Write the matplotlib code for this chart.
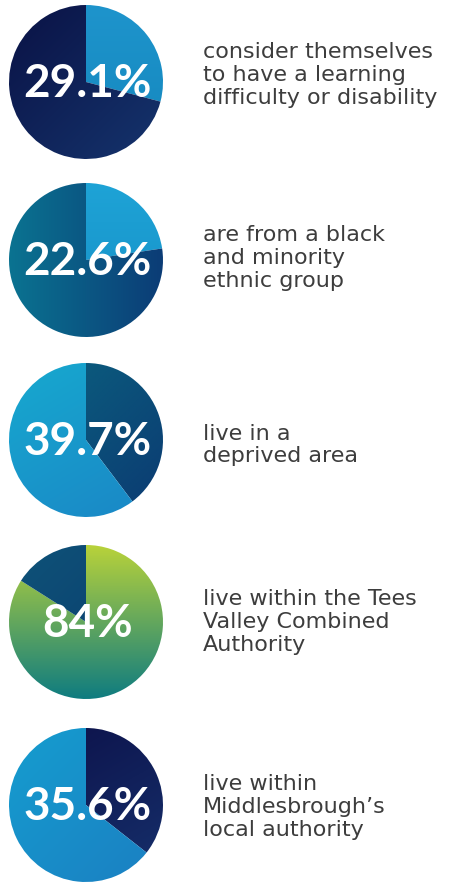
import matplotlib
matplotlib.use('Agg')
import matplotlib.pyplot as plt
import numpy as np
from matplotlib.colors import LinearSegmentedColormap

W, H = 451, 889

# values (share highlighted in each pie)
percents = [29.1, 22.6, 39.7, 84, 35.6]
labels = ['29.1%', '22.6%', '39.7%', '84%', '35.6%']
captions = [
    'consider themselves\nto have a learning\ndifficulty or disability',
    'are from a black\nand minority\nethnic group',
    'live in a\ndeprived area',
    'live within the Tees\nValley Combined\nAuthority',
    'live within\nMiddlesbrough\u2019s\nlocal authority',
]

# (highlighted wedge gradient, rest gradient), each (start colour, end colour, direction in degrees)
styles = [
    (('#1e94cc', '#1487bd', -90), ('#0a1245', '#15346d', -45)),
    (('#1ea3d6', '#168fc6', -90), ('#0a7391', '#0c3c76', 0)),
    (('#0b6380', '#0b3a72', -45), ('#17a9cf', '#1a86c6', -60)),
    (('#b8d23a', '#0f7c80', -90), ('#0e5378', '#0b3a6e', -45)),
    (('#0c1048', '#16306c', -60), ('#159dcf', '#1b7fc2', -45)),
]

pie_cx = 86
pie_cy = [82, 260, 440, 622, 805]
pie_r = 77
text_x = 203
text_cy = [75, 258, 445, 622, 807]


def gradient_img(c0, c1, angle):
    n = 200
    xs = np.linspace(-1, 1, n)
    X, Y = np.meshgrid(xs, xs[::-1])
    a = np.deg2rad(angle)
    t = X * np.cos(a) + Y * np.sin(a)
    t = (t - t.min()) / (t.max() - t.min())
    cmap = LinearSegmentedColormap.from_list('g', [c0, c1])
    return cmap(t)


fig = plt.figure(figsize=(W / 100, H / 100), dpi=100)
fig.patch.set_facecolor('white')

for i, p in enumerate(percents):
    ax = fig.add_axes([(pie_cx - pie_r) / W, 1 - (pie_cy[i] + pie_r) / H,
                       2 * pie_r / W, 2 * pie_r / H])
    wedges, _ = ax.pie([p, 100 - p], startangle=90, counterclock=False,
                       radius=1, colors=['none', 'none'],
                       wedgeprops=dict(linewidth=0))
    ax.set_xlim(-1, 1)
    ax.set_ylim(-1, 1)
    ax.axis('off')
    for w, (c0, c1, ang) in zip(wedges, styles[i]):
        im = ax.imshow(gradient_img(c0, c1, ang), extent=(-1, 1, -1, 1),
                       interpolation='bilinear', zorder=1)
        im.set_clip_path(w)
    ax.text(0.02, -0.02, labels[i], ha='center', va='center', color='white',
            fontsize=33, fontweight='bold', family='Lato', zorder=3)

    fig.text(text_x / W, 1 - text_cy[i] / H, captions[i], ha='left', va='center',
             fontsize=16, color='#3d3d3d', family='DejaVu Sans', linespacing=1.16)

plt.savefig('out.png', dpi=100)
